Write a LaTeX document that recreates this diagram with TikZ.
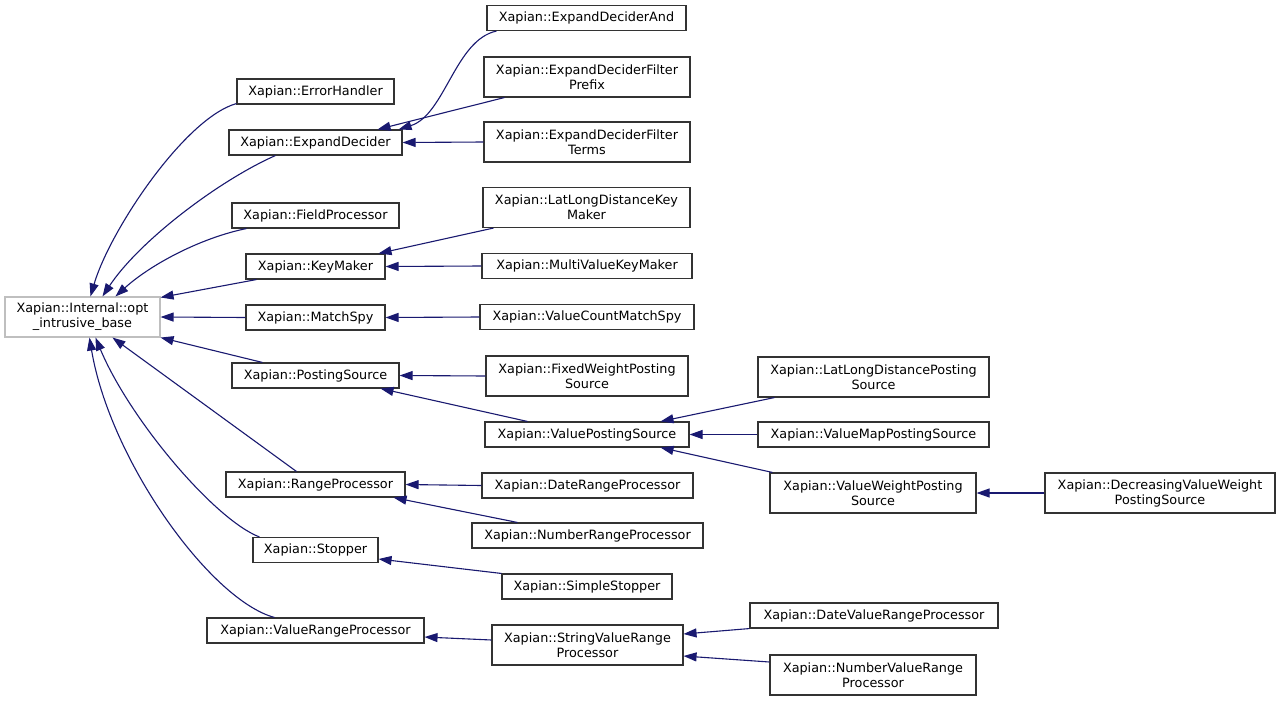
\documentclass[tikz,border=0pt]{standalone}
\usepackage{fontspec}
\setmainfont{DejaVu Sans}
\usetikzlibrary{arrows.meta}
\definecolor{edgeblue}{RGB}{25,25,112}
\begin{document}
\begin{tikzpicture}[x=1pt,y=-1pt,
 cls/.style={draw=black!80, line width=1.1pt, inner sep=0pt, align=center, font=\fontsize{12.8}{15}\selectfont},
 wh/.style 2 args={minimum width=#1pt, minimum height=#2pt},
 basecls/.style={cls, draw=black!25},
 inh/.style={draw=edgeblue, line width=1.1pt, -{Triangle[length=13pt,width=9pt]}}]
\useasboundingbox (0,0) rectangle (1281,701);
\fill[white] (0,0) rectangle (1281,701);
% root
\node[basecls, wh={155}{40}] (base) at (82.5,317) {Xapian::Internal::opt\\\_intrusive\_base};
% column 1
\node[cls, wh={157}{25}] (eh) at (315.5,91.5) {Xapian::ErrorHandler};
\node[cls, wh={173}{25}] (ed) at (315.5,142.5) {Xapian::ExpandDecider};
\node[cls, wh={167}{25}] (fp) at (315.5,215.5) {Xapian::FieldProcessor};
\node[cls, wh={139}{25}] (km) at (315.5,266.5) {Xapian::KeyMaker};
\node[cls, wh={139}{25}] (ms) at (315.5,317.5) {Xapian::MatchSpy};
\node[cls, wh={167}{25}] (ps) at (315.5,375.5) {Xapian::PostingSource};
\node[cls, wh={179}{25}] (rp) at (315.5,484.5) {Xapian::RangeProcessor};
\node[cls, wh={125}{25}] (st) at (315.5,550) {Xapian::Stopper};
\node[cls, wh={217}{25}] (vrp) at (315.5,630.5) {Xapian::ValueRangeProcessor};
% column 2
\node[cls, wh={199}{25}] (eda) at (586.5,18) {Xapian::ExpandDeciderAnd};
\node[cls, wh={206}{40}] (edfp) at (587,77) {Xapian::ExpandDeciderFilter\\Prefix};
\node[cls, wh={206}{40}] (edft) at (587,142) {Xapian::ExpandDeciderFilter\\Terms};
\node[cls, wh={207}{40}] (llkm) at (586.5,207.5) {Xapian::LatLongDistanceKey\\Maker};
\node[cls, wh={210}{25}] (mvkm) at (587,266) {Xapian::MultiValueKeyMaker};
\node[cls, wh={214}{25}] (vcms) at (587,317) {Xapian::ValueCountMatchSpy};
\node[cls, wh={202}{40}] (fwps) at (587,376) {Xapian::FixedWeightPosting\\Source};
\node[cls, wh={204}{25}] (vps) at (587,434.5) {Xapian::ValuePostingSource};
\node[cls, wh={211}{25}] (drp) at (587.5,485.5) {Xapian::DateRangeProcessor};
\node[cls, wh={231}{25}] (nrp) at (587.5,535.5) {Xapian::NumberRangeProcessor};
\node[cls, wh={170}{25}] (ss) at (587,586.5) {Xapian::SimpleStopper};
\node[cls, wh={191}{40}] (svrp) at (587.5,645) {Xapian::StringValueRange\\Processor};
% column 3
\node[cls, wh={231}{40}] (llps) at (873.5,377) {Xapian::LatLongDistancePosting\\Source};
\node[cls, wh={231}{25}] (vmps) at (873.5,434.5) {Xapian::ValueMapPostingSource};
\node[cls, wh={206}{40}] (vwps) at (873,493) {Xapian::ValueWeightPosting\\Source};
\node[cls, wh={248}{25}] (dvrp) at (874,615.5) {Xapian::DateValueRangeProcessor};
\node[cls, wh={206}{40}] (nvrp) at (873,675) {Xapian::NumberValueRange\\Processor};
% column 4
\node[cls, wh={230}{40}] (dvwps) at (1160,493) {Xapian::DecreasingValueWeight\\PostingSource};
% edges to root
\draw[inh] ([yshift=1pt]eh.south west) .. controls (185,118) and (110,230) .. ([xshift=86pt]base.north west);
\draw[inh] ([xshift=47pt]ed.south west) .. controls (220,180) and (140,240) .. ([xshift=98pt]base.north west);
\draw[inh] ([xshift=15pt]fp.south west) .. controls (200,238) and (150,265) .. ([xshift=111pt]base.north west);
\draw[inh] ([xshift=11pt]km.south west) -- ([yshift=-1pt]base.north east);
\draw[inh] (ms.west) -- (base.east);
\draw[inh] ([xshift=31pt]ps.north west) -- (base.south east);
\draw[inh] ([xshift=71pt]rp.north west) -- ([xshift=108pt]base.south west);
\draw[inh] ([xshift=7pt]st.north west) .. controls (215,520) and (130,420) .. ([xshift=91pt]base.south west);
\draw[inh] ([xshift=68pt]vrp.north west) .. controls (210,600) and (110,460) .. ([xshift=85pt]base.south west);
% other edges
\draw[inh] ([xshift=10pt]eda.south west) .. controls (455,40) and (445,115) .. ([xshift=-4pt]ed.north east);
\draw[inh] ([xshift=21pt]edfp.south west) -- ([xshift=-25pt]ed.north east);
\draw[inh] (edft.west) -- (ed.east);
\draw[inh] ([xshift=11pt]llkm.south west) -- ([xshift=-7pt]km.north east);
\draw[inh] (mvkm.west) -- (km.east);
\draw[inh] (vcms.west) -- (ms.east);
\draw[inh] (fwps.west) -- (ps.east);
\draw[inh] ([xshift=43pt]vps.north west) -- ([xshift=-19pt]ps.south east);
\draw[inh] ([xshift=17pt]llps.south west) -- ([xshift=-29pt]vps.north east);
\draw[inh] (vmps.west) -- (vps.east);
\draw[inh] ([xshift=3pt]vwps.north west) -- ([xshift=-29pt]vps.south east);
\draw[inh] (dvwps.west) -- (vwps.east);
\draw[inh] (drp.west) -- (rp.east);
\draw[inh] ([xshift=46pt]nrp.north west) -- ([xshift=-12pt]rp.south east);
\draw[inh] (ss.north west) -- ([yshift=-9pt]st.east);
\draw[inh] ([yshift=5pt]svrp.west) -- ([yshift=-6.5pt]vrp.east);
\draw[inh] (dvrp.south west) -- ([yshift=11pt]svrp.east);
\draw[inh] ([yshift=13pt]nvrp.west) -- ([yshift=-11pt]svrp.east);
\end{tikzpicture}
\end{document}
